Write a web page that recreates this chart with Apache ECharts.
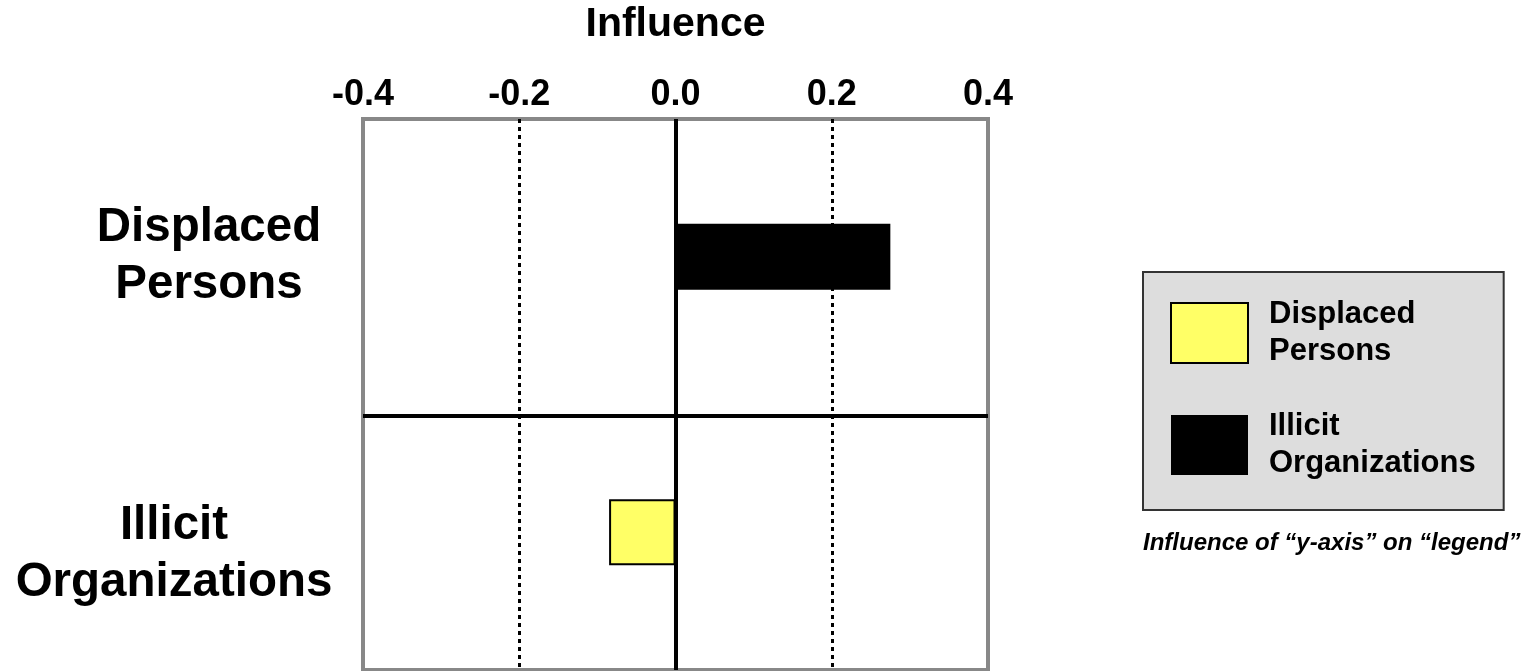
<!DOCTYPE html>
<html>
<head>
<meta charset="utf-8">
<script src="https://cdn.jsdelivr.net/npm/echarts@6/dist/echarts.min.js"></script>
<style>
html,body{margin:0;padding:0;background:#fff;}
#chart{width:1529px;height:671px;}
</style>
</head>
<body>
<div id="chart"></div>
<script>
const categories = ['Displaced Persons', 'Illicit Organizations'];
const seriesNames = ['Displaced Persons', 'Illicit Organizations'];
const displacedValues = [null, -0.085];
const illicitValues = [0.275, null];
const xTicks = [-0.4, -0.2, 0.0, 0.2, 0.4];
const xTitle = 'Influence';
const caption = 'Influence of \u201cy-axis\u201d on \u201clegend\u201d';

const FONT = '"Liberation Sans", Arial, Helvetica, sans-serif';
const chart = echarts.init(document.getElementById('chart'));

const yLabelStyle = {
  fontFamily: FONT, fontSize: 47.5, fontWeight: 'bold', color: '#000',
  lineHeight: 57, align: 'center', verticalAlign: 'middle',
  rich: {
    a: { fontFamily: FONT, fontSize: 47.5, fontWeight: 'bold', color: '#000', lineHeight: 57, align: 'center' },
    sp1: { fontSize: 1, lineHeight: 44, align: 'center' }
  }
};
const labelShifts = [
  Object.assign({}, yLabelStyle),
  Object.assign({}, yLabelStyle, { padding: [0, 70, 0, 0] })
];
function yLabelFormatter(v, i) {
  const lines = v.split(' ').map(w => '{a|' + w + '}');
  if (i === 1) lines.unshift('{sp1| }');
  return lines.join('\n');
}

const option = {
  backgroundColor: '#ffffff',
  animation: false,
  title: {
    text: caption,
    left: 1143,
    top: 531,
    padding: 0,
    textStyle: { fontFamily: FONT, fontSize: 24, fontWeight: 'bold', fontStyle: 'italic', color: '#000' }
  },
  legend: {
    orient: 'vertical',
    left: 1143,
    top: 272,
    padding: [24, 28, 28, 27],
    itemWidth: 77,
    itemHeight: 60,
    itemGap: 38,
    icon: 'rect',
    backgroundColor: '#dddddd',
    borderColor: '#333333',
    borderWidth: 2,
    data: seriesNames,
    formatter: n => n.replace(' ', '\n'),
    textStyle: { fontFamily: FONT, fontSize: 31, fontWeight: 'bold', color: '#000', lineHeight: 37, padding: [0, 0, 0, 16] }
  },
  grid: [
    { left: 363, top: 119, width: 625, height: 551, show: true, borderColor: '#888888', borderWidth: 4, backgroundColor: 'transparent', outerBoundsMode: 'none', containLabel: false },
    { left: 363, top: 119, width: 625, height: 593.4, show: false, outerBoundsMode: 'none', containLabel: false }
  ],
  xAxis: [
    {
      gridIndex: 0,
      type: 'value',
      position: 'top',
      min: xTicks[0],
      max: xTicks[xTicks.length - 1],
      interval: 0.2,
      name: xTitle,
      nameLocation: 'middle',
      nameGap: 74,
      nameTextStyle: { fontFamily: FONT, fontSize: 41, fontWeight: 'bold', color: '#000' },
      axisLine: { show: false },
      axisTick: { show: false },
      axisLabel: { fontFamily: FONT, fontSize: 36, fontWeight: 'bold', color: '#000', margin: 6, formatter: v => v.toFixed(1) },
      splitLine: { show: true, showMinLine: false, showMaxLine: false, lineStyle: { color: '#000', width: 3, type: [4, 4] } }
    },
    {
      gridIndex: 1,
      type: 'value',
      min: xTicks[0],
      max: xTicks[xTicks.length - 1],
      show: false
    }
  ],
  yAxis: [
    {
      gridIndex: 0,
      type: 'category',
      inverse: true,
      data: categories.map((c, i) => ({ value: c, textStyle: labelShifts[i] })),
      axisLine: { show: false },
      axisTick: { show: false },
      splitLine: { show: false },
      axisLabel: Object.assign({ interval: 0, margin: 154, formatter: yLabelFormatter }, yLabelStyle)
    },
    {
      gridIndex: 1,
      type: 'category',
      inverse: true,
      data: categories,
      axisLine: { show: false },
      axisTick: { show: false },
      axisLabel: { show: false },
      splitLine: { show: true, showMinLine: false, showMaxLine: false, lineStyle: { color: '#000', width: 4 } }
    }
  ],
  series: [
    {
      name: seriesNames[0],
      type: 'bar',
      xAxisIndex: 0, yAxisIndex: 0,
      data: displacedValues,
      barWidth: 66,
      barGap: '-100%',
      itemStyle: { color: '#ffff66', borderColor: '#000', borderWidth: 2 }
    },
    {
      name: seriesNames[1],
      type: 'bar',
      xAxisIndex: 0, yAxisIndex: 0,
      data: illicitValues,
      barWidth: 66,
      barGap: '-100%',
      itemStyle: { color: '#000000' },
      markLine: {
        silent: true,
        symbol: ['none', 'none'],
        label: { show: false },
        lineStyle: { color: '#000', width: 4, type: 'solid' },
        data: [{ xAxis: 0 }]
      }
    }
  ]
};
chart.setOption(option);
</script>
</body>
</html>
